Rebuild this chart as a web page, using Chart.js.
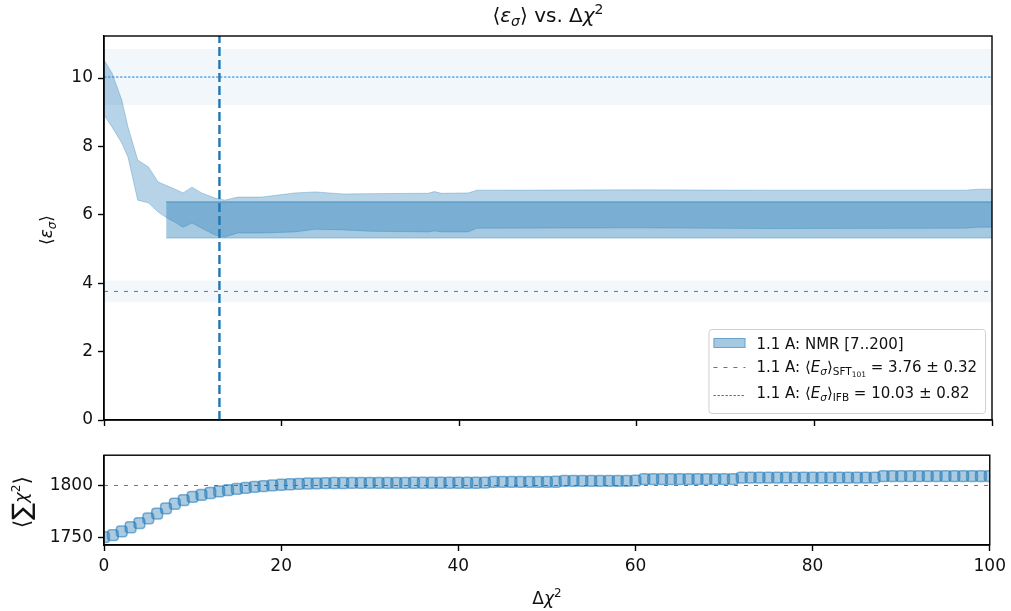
<!DOCTYPE html>
<html>
<head>
<meta charset="utf-8">
<script src="https://cdn.jsdelivr.net/npm/chart.js@4.4.1/dist/chart.umd.min.js"></script>
<style>
  html, body { margin: 0; padding: 0; background: #fff; }
  #wrap { position: relative; width: 1011px; height: 611px; }
  canvas { position: absolute; left: 0; }
</style>
</head>
<body>
<div id="wrap">
  <canvas id="top" width="1011" height="440" style="top:0"></canvas>
  <canvas id="bot" width="1011" height="171" style="top:440px"></canvas>
</div>
<script>
// ---- data ----
const xTicks = [0, 20, 40, 60, 80, 100];
const yTicksTop = [0, 2, 4, 6, 8, 10];
const yTicksBot = [1750, 1800];

// NMR band (light) edges
const bandX     = [0, 0.9, 2.0, 2.7, 3.8, 5.0, 6.1, 7.1, 8.0, 8.9, 9.9, 11.0, 12.5, 13.6, 15.1, 17.8, 21.5, 23.8, 27.0, 30.0, 36.5, 37.2, 38.0, 41.0, 42.0, 60.0, 75.0, 97.0, 98.5, 100];
const bandUpper = [10.53, 10.15, 9.36, 8.57, 7.60, 7.40, 6.96, 6.85, 6.75, 6.64, 6.81, 6.64, 6.49, 6.43, 6.52, 6.52, 6.64, 6.67, 6.61, 6.62, 6.63, 6.68, 6.63, 6.64, 6.72, 6.73, 6.72, 6.72, 6.75, 6.75];
const bandLower = [8.92, 8.57, 8.10, 7.69, 6.43, 6.35, 6.08, 5.91, 5.78, 5.64, 5.76, 5.61, 5.41, 5.35, 5.47, 5.47, 5.50, 5.58, 5.56, 5.52, 5.50, 5.53, 5.50, 5.50, 5.61, 5.62, 5.60, 5.61, 5.64, 5.64];

// NMR [7..200] mean +- err
const nmrRange = [7, 100];
const nmrMean = 5.85, nmrErr = 0.53;
// reference values
const sftMean = 3.76, sftErr = 0.32;
const ifbMean = 10.03, ifbErr = 0.82;
const cutX = 13;

// lower panel: sum chi^2 for each delta chi^2
const chiX = [0, 1, 2, 3, 4, 5, 6, 7, 8, 9, 10, 11, 12, 13, 14, 15, 16, 17, 18, 19, 20,
  21, 22, 23, 24, 25, 26, 27, 28, 29, 30, 31, 32, 33, 34, 35, 36, 37, 38, 39, 40,
  41, 42, 43, 44, 45, 46, 47, 48, 49, 50, 51, 52, 53, 54, 55, 56, 57, 58, 59, 60,
  61, 62, 63, 64, 65, 66, 67, 68, 69, 70, 71, 72, 73, 74, 75, 76, 77, 78, 79, 80,
  81, 82, 83, 84, 85, 86, 87, 88, 89, 90, 91, 92, 93, 94, 95, 96, 97, 98, 99, 100];
const chiSum = [1750.5, 1752.5, 1756, 1760, 1764, 1768.5, 1773, 1778, 1782.5, 1786, 1789,
  1791, 1792.8, 1794.3, 1795.6, 1796.7, 1797.7, 1798.6, 1799.4, 1800.1, 1800.7,
  1801.2, 1801.6, 1801.9, 1802.1, 1802.3, 1802.4, 1802.4, 1802.5, 1802.5, 1802.5,
  1802.5, 1802.5, 1802.5, 1802.5, 1802.6, 1802.6, 1802.6, 1802.6, 1802.6, 1802.6,
  1802.6, 1802.6, 1802.7, 1803.5, 1803.5, 1803.5, 1803.5, 1803.5, 1803.5, 1803.5,
  1803.6, 1804.5, 1804.5, 1804.5, 1804.5, 1804.5, 1804.5, 1804.5, 1804.5, 1804.6,
  1806, 1806, 1806, 1806, 1806, 1806, 1806, 1806, 1806, 1806,
  1806.1, 1807.5, 1807.5, 1807.5, 1807.5, 1807.5, 1807.5, 1807.5, 1807.5, 1807.5,
  1807.5, 1807.5, 1807.5, 1807.5, 1807.5, 1807.5, 1807.6, 1809, 1809, 1809,
  1809, 1809, 1809, 1809, 1809, 1809, 1809, 1809, 1809, 1809, 1809];
const chiRef = 1800;

// ---- text pieces (mathtext-like) ----
const titleParts = [{t: '⟨'}, {t: 'ε', it: 1}, {t: 'σ', it: 1, lv: 1}, {t: '⟩ vs. Δ'}, {t: 'χ', it: 1}, {t: '2', sup: 1}];
const xLabelParts = [{t: 'Δ'}, {t: 'χ', it: 1}, {t: '2', sup: 1}];
const yLabelTopParts = [{t: '⟨'}, {t: 'ε', it: 1}, {t: 'σ', it: 1, lv: 1}, {t: '⟩'}];
const yLabelBotParts = [{t: '⟨', sc: 1.25}, {t: '∑', sc: 1.45}, {t: 'χ', it: 1}, {t: '2', sup: 1}, {t: '⟩', sc: 1.25}];
const legendRows = [
  [{t: '1.1 A: NMR [7..200]'}],
  [{t: '1.1 A: ⟨'}, {t: 'E', it: 1}, {t: 'σ', it: 1, lv: 1}, {t: '⟩'}, {t: 'SFT', lv: 1}, {t: '101', lv: 2}, {t: ' = 3.76 ± 0.32'}],
  [{t: '1.1 A: ⟨'}, {t: 'E', it: 1}, {t: 'σ', it: 1, lv: 1}, {t: '⟩'}, {t: 'IFB', lv: 1}, {t: ' = 10.03 ± 0.82'}]
];

const FONT = '"DejaVu Sans", "Noto Sans", sans-serif';
const BLUE = 'rgb(31,119,180)';
const LINE = 'rgb(40,132,210)';
const blue = a => `rgba(31,119,180,${a})`;
const INK = '#111';

function partFont(ctx, p, size) {
  let s = size * (p.sc || 1);
  if (p.lv === 1) s *= 0.7;
  if (p.lv === 2) s *= 0.5;
  if (p.sup) s *= 0.7;
  ctx.font = (p.it ? 'italic ' : '') + s.toFixed(2) + 'px ' + FONT;
  return s;
}
function richWidth(ctx, parts, size) {
  let w = 0;
  parts.forEach(p => { partFont(ctx, p, size); w += ctx.measureText(p.t).width; });
  return w;
}
function drawRich(ctx, parts, x, y, size, align) {
  const w = richWidth(ctx, parts, size);
  let cx = align === 'center' ? x - w / 2 : align === 'right' ? x - w : x;
  ctx.textAlign = 'left';
  ctx.textBaseline = 'alphabetic';
  parts.forEach(p => {
    partFont(ctx, p, size);
    let dy = 0;
    if (p.lv === 1) dy = 0.22 * size;
    if (p.lv === 2) dy = 0.36 * size;
    if (p.sup) dy = -0.42 * size;
    if (p.sc) dy = (p.sc - 1) * 0.35 * size;
    ctx.fillText(p.t, cx, y + dy);
    cx += ctx.measureText(p.t).width;
  });
  return w;
}

const frame = {
  id: 'frame',
  afterDatasetsDraw(chart) {
    const a = chart.chartArea, ctx = chart.ctx;
    ctx.save();
    ctx.strokeStyle = '#000';
    ctx.lineWidth = 1.4;
    ctx.strokeRect(a.left, a.top, a.right - a.left, a.bottom - a.top);
    ctx.restore();
  }
};

const topTexts = {
  id: 'topTexts',
  afterDraw(chart) {
    const a = chart.chartArea, ctx = chart.ctx;
    ctx.save();
    ctx.fillStyle = INK;
    drawRich(ctx, titleParts, (a.left + a.right) / 2, a.top - 14, 20, 'center');
    ctx.save();
    ctx.translate(a.left - 58, (a.top + a.bottom) / 2 + 2);
    ctx.rotate(-Math.PI / 2);
    drawRich(ctx, yLabelTopParts, 0, 6, 17, 'center');
    ctx.restore();

    // legend
    const fs = 15;
    let tw = 0;
    legendRows.forEach(r => { tw = Math.max(tw, richWidth(ctx, r, fs)); });
    const bw = 5 + 32 + 11 + tw + 8, bh = 84;
    const bx = a.right - 7 - bw, by = a.bottom - 7 - bh;
    ctx.fillStyle = 'rgba(255,255,255,0.8)';
    ctx.strokeStyle = '#d0d0d0';
    ctx.lineWidth = 1;
    ctx.beginPath();
    ctx.roundRect(bx + 0.5, by + 0.5, bw, bh, 3);
    ctx.fill();
    ctx.stroke();
    const rowY = [14, 37, 63];
    // patch
    ctx.fillStyle = blue(0.4);
    ctx.strokeStyle = blue(0.45);
    ctx.fillRect(bx + 5, by + rowY[0] - 5, 32, 10);
    ctx.strokeRect(bx + 5.5, by + rowY[0] - 4.5, 31, 9);
    // line samples
    ctx.strokeStyle = LINE;
    ctx.lineWidth = 1;
    ctx.setLineDash([4, 6]);
    ctx.beginPath(); ctx.moveTo(bx + 5, by + rowY[1] + 1.5); ctx.lineTo(bx + 37, by + rowY[1] + 1.5); ctx.stroke();
    ctx.setLineDash([2.5, 1.5]);
    ctx.beginPath(); ctx.moveTo(bx + 5, by + rowY[2] + 3.5); ctx.lineTo(bx + 37, by + rowY[2] + 3.5); ctx.stroke();
    ctx.setLineDash([]);
    ctx.fillStyle = INK;
    legendRows.forEach((r, i) => drawRich(ctx, r, bx + 48, by + rowY[i] + 5.5, fs, 'left'));
    ctx.restore();
  }
};

const botTexts = {
  id: 'botTexts',
  afterDraw(chart) {
    const a = chart.chartArea, ctx = chart.ctx;
    ctx.save();
    ctx.fillStyle = INK;
    drawRich(ctx, xLabelParts, (a.left + a.right) / 2, a.bottom + 59, 17, 'center');
    ctx.translate(a.left - 83, (a.top + a.bottom) / 2 + 2);
    ctx.rotate(-Math.PI / 2);
    drawRich(ctx, yLabelBotParts, 0, 6, 17.5, 'center');
    ctx.restore();
  }
};

function xy(xs, ys) { return xs.map((x, i) => ({x: x, y: ys[i]})); }
function hline(y) { return [{x: 0, y: y}, {x: 100, y: y}]; }

function axisX(showLabels, h) {
  return {
    type: 'linear', min: 0, max: 100,
    afterBuildTicks: s => { s.ticks = xTicks.map(v => ({value: v})); },
    ticks: {display: showLabels, color: INK, font: {family: FONT, size: 17}, padding: 5, maxRotation: 0,
            callback: v => String(v)},
    grid: {drawOnChartArea: false, tickLength: 6, tickWidth: 1.4, tickColor: '#000'},
    border: {display: true, color: '#000', width: 1.4},
    afterFit: s => { s.height = h; }
  };
}
function axisY(min, max, ticks) {
  return {
    min: min, max: max,
    afterBuildTicks: s => { s.ticks = ticks.map(v => ({value: v})); },
    ticks: {color: INK, font: {family: FONT, size: 17}, padding: 5, callback: v => String(v)},
    grid: {drawOnChartArea: false, tickLength: 6, tickWidth: 1.4, tickColor: '#000'},
    border: {display: true, color: '#000', width: 1.4},
    afterFit: s => { s.width = 104; }
  };
}

const thin = {pointRadius: 0, borderWidth: 0, fill: false};

new Chart(document.getElementById('top'), {
  type: 'line',
  data: {
    datasets: [
      {label: 'cut', data: [{x: cutX, y: 0}, {x: cutX, y: 12}], borderColor: BLUE, borderWidth: 2.4, borderDash: [9, 4], pointRadius: 0, fill: false, order: 0},
      {label: 'ifbHi', data: hline(ifbMean + ifbErr), ...thin, fill: '+1', backgroundColor: blue(0.06), order: 9},
      {label: 'ifbLo', data: hline(ifbMean - ifbErr), ...thin, order: 9},
      {label: 'ifb', data: hline(ifbMean), borderColor: LINE, borderWidth: 1, borderDash: [2.5, 1.5], pointRadius: 0, fill: false, order: 5},
      {label: 'sftHi', data: hline(sftMean + sftErr), ...thin, fill: '+1', backgroundColor: blue(0.06), order: 9},
      {label: 'sftLo', data: hline(sftMean - sftErr), ...thin, order: 9},
      {label: 'sft', data: hline(sftMean), borderColor: LINE, borderWidth: 1, borderDash: [4, 6], pointRadius: 0, fill: false, order: 5},
      {label: 'bandHi', data: xy(bandX, bandUpper), pointRadius: 0, borderWidth: 1, borderColor: blue(0.3), fill: '+1', backgroundColor: blue(0.32), tension: 0, order: 7},
      {label: 'bandLo', data: xy(bandX, bandLower), pointRadius: 0, borderWidth: 1, borderColor: blue(0.3), fill: false, tension: 0, order: 7},
      {label: 'nmrHi', data: [{x: nmrRange[0], y: nmrMean + nmrErr}, {x: nmrRange[1], y: nmrMean + nmrErr}], pointRadius: 0, borderWidth: 1.2, borderColor: blue(0.45), fill: '+1', backgroundColor: blue(0.4), order: 6},
      {label: 'nmrLo', data: [{x: nmrRange[0], y: nmrMean - nmrErr}, {x: nmrRange[1], y: nmrMean - nmrErr}], pointRadius: 0, borderWidth: 1, borderColor: blue(0.35), fill: false, order: 6}
    ]
  },
  options: {
    responsive: false, animation: false, parsing: true,
    layout: {padding: {left: 0, right: 19, top: 36, bottom: 0}},
    plugins: {legend: {display: false}, tooltip: {enabled: false}, title: {display: false}},
    scales: {x: axisX(false, 20), y: axisY(0, 11.23, yTicksTop)}
  },
  plugins: [frame, topTexts]
});

new Chart(document.getElementById('bot'), {
  type: 'line',
  data: {
    datasets: [
      {label: 'ref', data: hline(chiRef), borderColor: LINE, borderWidth: 1, borderDash: [4, 6], pointRadius: 0, fill: false, order: 2},
      {label: 'chi', data: xy(chiX, chiSum), showLine: false, pointStyle: 'rectRounded', pointRadius: 6.3, clip: 0,
       pointBackgroundColor: blue(0.38), pointBorderColor: blue(0.55), pointBorderWidth: 1.5, order: 1}
    ]
  },
  options: {
    responsive: false, animation: false,
    layout: {padding: {left: 0, right: 19, top: 7, bottom: 0}},
    plugins: {legend: {display: false}, tooltip: {enabled: false}},
    scales: {x: axisX(true, 66), y: axisY(1743, 1829, yTicksBot)}
  },
  plugins: [frame, botTexts]
});
</script>
</body>
</html>
